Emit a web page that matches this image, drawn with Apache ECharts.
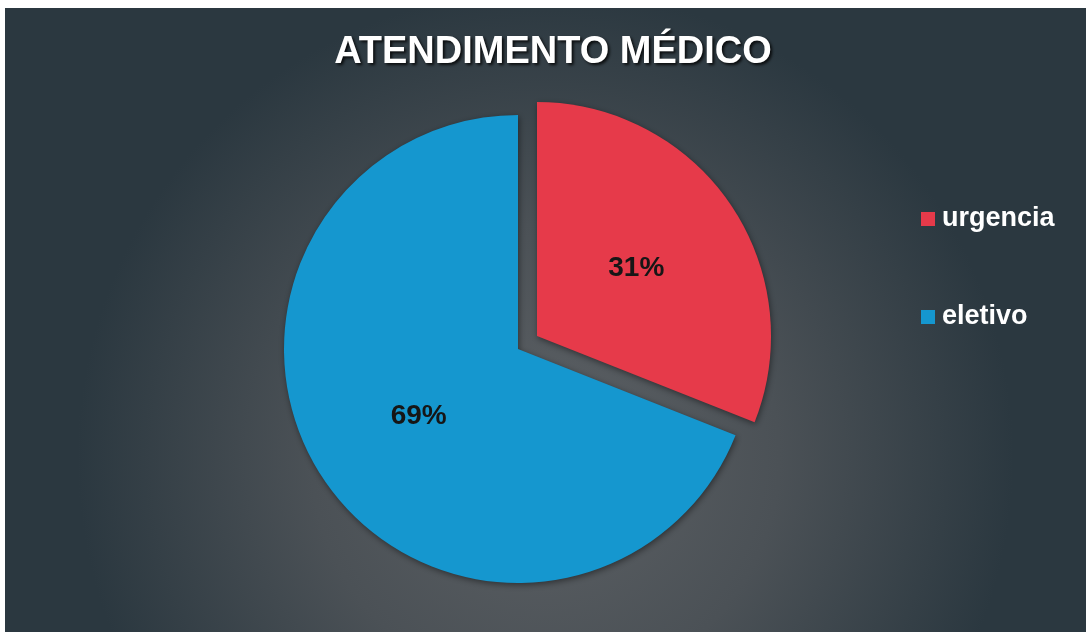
<!DOCTYPE html>
<html>
<head>
<meta charset="utf-8">
<style>
  html, body { margin: 0; padding: 0; background: #ffffff; }
  #chart { width: 1086px; height: 632px; }
</style>
<script src="https://cdn.jsdelivr.net/npm/echarts@6/dist/echarts.min.js"></script>
</head>
<body>
<div id="chart"></div>
<script>
// dados
const categories = ["urgencia", "eletivo"];
const values = [31, 69];
const colors = ["#e63a4a", "#1597cf"];

let chart = echarts.init(document.getElementById('chart'), null, { renderer: 'canvas' });

let option = {
    backgroundColor: '#ffffff',
    animation: false,
    graphic: [{
        type: 'rect',
        z: -10,
        shape: { x: 5, y: 8, width: 1081, height: 624 },
        style: {
            fill: new echarts.graphic.RadialGradient(0.5, 0.72, 0.75, [
                { offset: 0, color: '#5d6165' },
                { offset: 0.5, color: '#4b5156' },
                { offset: 1, color: '#2b3840' }
            ])
        }
    }],
    title: {
        text: 'ATENDIMENTO MÉDICO',
        left: 548,
        textAlign: 'center',
        top: 29,
        textStyle: {
            color: '#ffffff',
            fontFamily: 'Liberation Sans, Arial, sans-serif',
            fontWeight: 'bold',
            fontSize: 38,
            textShadowColor: 'rgba(0,0,0,0.8)',
            textShadowBlur: 3,
            textShadowOffsetX: 2,
            textShadowOffsetY: 2
        }
    },
    legend: {
        orient: 'vertical',
        left: 916,
        top: 200,
        icon: 'rect',
        itemWidth: 14,
        itemHeight: 14,
        itemGap: 70,
        data: categories,
        textStyle: {
            color: '#ffffff',
            fontFamily: 'Liberation Sans, Arial, sans-serif',
            fontWeight: 'bold',
            fontSize: 27,
            lineHeight: 28,
            padding: [0, 0, 0, 2]
        }
    },
    series: [{
        type: 'pie',
        center: [518, 349],
        radius: 234,
        startAngle: 90,
        clockwise: true,
        selectedMode: 'single',
        selectedOffset: 23,
        silent: true,
        label: {
            show: true,
            position: 'inside',
            formatter: '{d}%',
            color: '#161616',
            fontFamily: 'Liberation Sans, Arial, sans-serif',
            fontWeight: 'bold',
            fontSize: 28
        },
        labelLine: { show: false },
        itemStyle: {
            shadowColor: 'rgba(0,0,0,0.45)',
            shadowBlur: 6,
            shadowOffsetX: 1,
            shadowOffsetY: 2
        },
        data: categories.map((name, i) => ({
            name: name,
            value: values[i],
            selected: i === 0,
            itemStyle: { color: colors[i] }
        }))
    }]
};

chart.setOption(option);
</script>
</body>
</html>
